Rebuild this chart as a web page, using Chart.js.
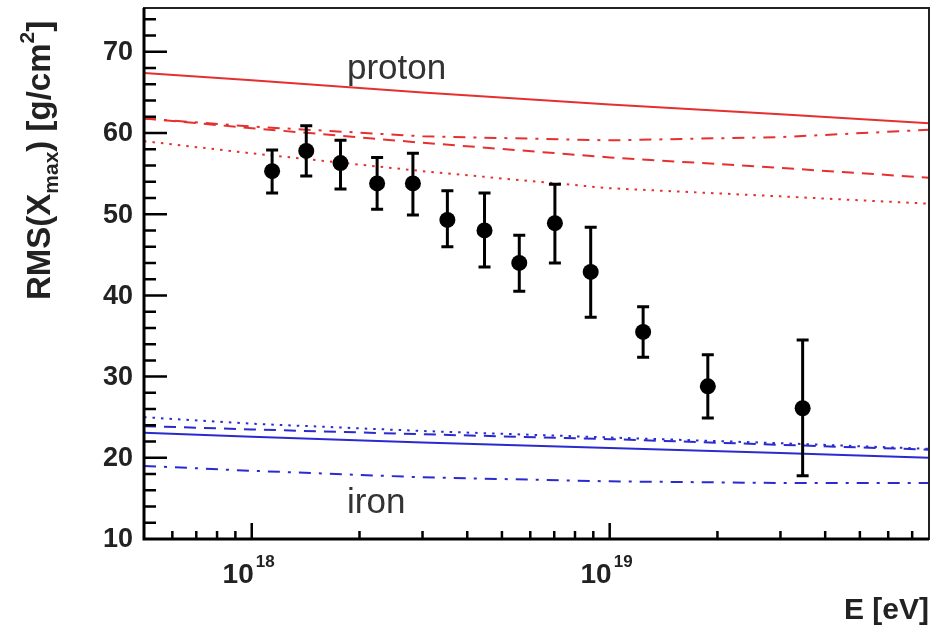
<!DOCTYPE html>
<html>
<head>
<meta charset="utf-8">
<script src="https://cdn.jsdelivr.net/npm/chart.js@4.4.1/dist/chart.umd.min.js"></script>
<style>
  html, body { margin: 0; padding: 0; background: #fff; }
  canvas { display: block; }
</style>
</head>
<body>
<canvas id="rmsChart" width="937" height="625" style="width:937px;height:625px"></canvas>
<script>
// measured points: energy [eV], RMS(Xmax) and error bar ends
const energy = [1.14e18, 1.42e18, 1.77e18, 2.24e18, 2.82e18, 3.52e18, 4.47e18, 5.59e18, 7.03e18, 8.85e18, 1.24e19, 1.88e19, 3.46e19];
const rms    = [55.3, 57.8, 56.3, 53.8, 53.8, 49.3, 48.0, 44.0, 48.9, 42.9, 35.5, 28.8, 26.1];
const errHi  = [57.9, 60.9, 59.1, 57.0, 57.5, 52.9, 52.6, 47.4, 53.7, 48.4, 38.6, 32.7, 34.5];
const errLo  = [52.6, 54.7, 53.1, 50.6, 49.9, 46.0, 43.5, 40.5, 44.0, 37.3, 32.4, 24.9, 17.8];

// model curves sampled at these energies
const modelE = [5e17, 1e18, 3e18, 1e19, 3e19, 7.8e19];
const protonSolid   = [67.4, 66.5, 65.0, 63.5, 62.3, 61.2];
const protonDashed  = [61.8, 60.6, 58.8, 57.0, 55.7, 54.5];
const protonDashDot = [61.8, 60.8, 59.6, 59.1, 59.5, 60.4];
const protonDotted  = [59.0, 57.5, 55.3, 53.2, 52.2, 51.3];
const ironSolid     = [23.1, 22.6, 21.9, 21.2, 20.6, 20.0];
const ironDashed    = [23.9, 23.5, 22.9, 22.3, 21.6, 21.0];
const ironDotted    = [25.0, 24.2, 23.3, 22.5, 21.8, 21.1];
const ironDashDot   = [19.0, 18.4, 17.6, 17.1, 16.9, 16.9];

const yTicks = [10, 20, 30, 40, 50, 60, 70];
const xDecades = [18, 19];

const RED = '#e5302f';
const BLUE = '#2a2ad0';
const FONT = '"Liberation Sans", Arial, sans-serif';

const pts = (xs, ys) => xs.map((x, i) => ({ x: x, y: ys[i] }));

const modelLine = (ys, color, dash) => ({
    type: 'line',
    data: pts(modelE, ys),
    borderColor: color,
    borderWidth: 2,
    borderDash: dash,
    pointRadius: 0,
    fill: false,
    tension: 0,
    order: 2
});

const SOLID = [], DASH = [12, 8], DOT = [2.5, 6], DASHDOT = [12, 8, 3, 8];

const frame = {
    id: 'frame',
    afterDatasetsDraw(chart) {
        const { ctx, chartArea: a, scales: { x, y } } = chart;
        ctx.save();

        // error bars
        ctx.strokeStyle = '#000';
        ctx.lineWidth = 3;
        energy.forEach((e, i) => {
            const px = x.getPixelForValue(e);
            const top = y.getPixelForValue(errHi[i]);
            const bot = y.getPixelForValue(errLo[i]);
            ctx.beginPath();
            ctx.moveTo(px, top); ctx.lineTo(px, bot);
            ctx.moveTo(px - 6, top); ctx.lineTo(px + 6, top);
            ctx.moveTo(px - 6, bot); ctx.lineTo(px + 6, bot);
            ctx.stroke();
        });

        // box
        ctx.lineWidth = 2;
        ctx.strokeStyle = '#222';
        ctx.strokeRect(a.left, a.top, a.right - a.left, a.bottom - a.top);
        ctx.lineWidth = 3;
        ctx.strokeStyle = '#000';
        ctx.beginPath();
        ctx.moveTo(a.left, a.top); ctx.lineTo(a.left, a.bottom); ctx.lineTo(a.right, a.bottom);
        ctx.stroke();

        // y ticks (inward)
        ctx.lineWidth = 2.5;
        ctx.beginPath();
        for (let v = 12; v <= 74; v += 2) {
            const py = y.getPixelForValue(v);
            const len = v % 10 === 0 ? 23 : 12;
            ctx.moveTo(a.left, py); ctx.lineTo(a.left + len, py);
        }
        // x ticks (inward)
        for (let d = 17; d <= 19; d++) {
            for (let m = 1; m <= 9; m++) {
                const v = m * Math.pow(10, d);
                if (v <= x.min || v >= x.max) continue;
                const px = x.getPixelForValue(v);
                const len = m === 1 ? 16 : 8;
                ctx.moveTo(px, a.bottom); ctx.lineTo(px, a.bottom - len);
            }
        }
        ctx.stroke();

        // y tick labels
        ctx.fillStyle = '#222';
        ctx.font = 'bold 27px ' + FONT;
        ctx.textAlign = 'right';
        ctx.textBaseline = 'middle';
        yTicks.forEach(v => ctx.fillText(String(v), 133, y.getPixelForValue(v) + 1));

        // x tick labels 10^n
        ctx.textBaseline = 'alphabetic';
        xDecades.forEach(d => {
            const px = x.getPixelForValue(Math.pow(10, d));
            ctx.font = 'bold 28px ' + FONT;
            ctx.textAlign = 'right';
            ctx.fillText('10', px + 2, 583);
            ctx.font = 'bold 17px ' + FONT;
            ctx.textAlign = 'left';
            ctx.fillText(String(d), px + 4, 567);
        });

        // x title
        ctx.font = 'bold 30px ' + FONT;
        ctx.textAlign = 'right';
        ctx.fillText('E [eV]', a.right, 619);

        // y title, rotated
        ctx.save();
        ctx.translate(50, 300);
        ctx.rotate(-Math.PI / 2);
        ctx.textAlign = 'left';
        let cx = 0;
        const seg = (t, size, dy) => {
            ctx.font = 'bold ' + size + 'px ' + FONT;
            ctx.fillText(t, cx, dy);
            cx += ctx.measureText(t).width;
        };
        seg('RMS(X', 33, 0);
        seg('max', 21, 8);
        seg(') [g/cm', 33, 0);
        seg('2', 21, -16);
        seg(']', 33, 0);
        ctx.restore();

        // model labels
        ctx.font = '35px ' + FONT;
        ctx.fillStyle = '#333';
        ctx.textAlign = 'left';
        ctx.fillText('proton', 347, 79);
        ctx.fillText('iron', 347, 513);

        ctx.restore();
    }
};

new Chart(document.getElementById('rmsChart'), {
    type: 'scatter',
    data: {
        datasets: [
            {
                label: 'data',
                data: pts(energy, rms),
                backgroundColor: '#000',
                borderColor: '#000',
                borderWidth: 0,
                pointRadius: 8,
                order: 1
            },
            modelLine(protonSolid, RED, SOLID),
            modelLine(protonDashed, RED, DASH),
            modelLine(protonDashDot, RED, DASHDOT),
            modelLine(protonDotted, RED, DOT),
            modelLine(ironSolid, BLUE, SOLID),
            modelLine(ironDashed, BLUE, DASH),
            modelLine(ironDotted, BLUE, DOT),
            modelLine(ironDashDot, BLUE, DASHDOT)
        ]
    },
    options: {
        responsive: false,
        animation: false,
        layout: { padding: { left: 144, right: 5, top: 8, bottom: 86 } },
        plugins: { legend: { display: false }, tooltip: { enabled: false } },
        scales: {
            x: { type: 'logarithmic', min: 5e17, max: 7.8e19, display: false },
            y: { type: 'linear', min: 10, max: 75.4, display: false }
        }
    },
    plugins: [frame]
});
</script>
</body>
</html>
